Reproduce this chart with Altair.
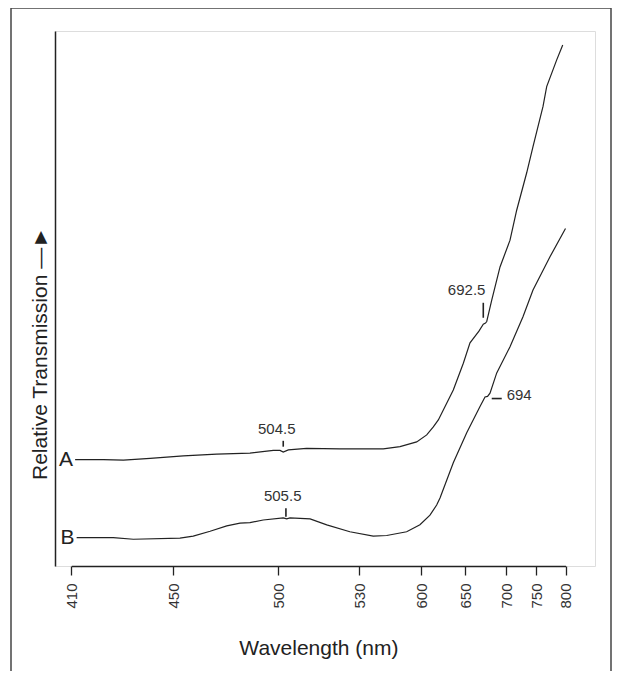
import altair as alt
import pandas as pd

# x-axis tick values (nm) and where the original's non-linear axis places them
tick_values = [410, 450, 500, 530, 600, 650, 700, 750, 800]
tick_range = [16.3, 118, 223.4, 304, 366, 410, 451, 481, 510.5]

# Curve A
a_wl = [411.5, 422.6, 430.5, 441.0, 454.9, 470.7, 486.5, 497.6, 500.6, 501.8, 503.7,
        510.5, 522.9, 557.4, 576.3, 595.1, 606.5, 614.0, 619.7, 636.7, 648.1, 656.1,
        667.0, 672.3, 675.0, 676.5, 682.6, 692.7, 706.7, 717.8, 734.5, 745.0, 761.9,
        768.1, 785.1, 795.3]
a_val = [19.9, 19.9, 19.8, 20.1, 20.6, 20.9, 21.1, 21.6, 21.6, 21.3, 21.7,
         22.0, 21.9, 21.9, 22.3, 23.2, 24.5, 26.0, 27.3, 32.9, 37.9, 41.7,
         43.9, 45.2, 45.4, 45.7, 49.7, 55.9, 60.9, 66.5, 73.5, 78.4, 85.9,
         89.6, 94.6, 97.4]

# Curve B
b_wl = [412.1, 426.5, 434.4, 453.3, 459.6, 467.6, 475.5, 481.8, 486.5, 492.8, 501.8,
        503.1, 504.3, 511.8, 518.0, 526.6, 546.1, 561.3, 583.8, 598.8, 610.2, 617.8,
        621.6, 636.7, 652.1, 668.3, 674.4, 677.5, 680.5, 688.7, 706.7, 728.3, 745.0,
        773.7, 800.0]
b_val = [5.3, 5.3, 5.0, 5.2, 5.6, 6.5, 7.5, 8.0, 8.1, 8.6, 9.0,
         8.8, 9.0, 8.8, 7.7, 6.4, 5.6, 5.7, 6.4, 7.7, 9.5, 11.4,
         12.7, 19.3, 24.9, 29.8, 31.6, 31.7, 32.3, 36.1, 41.0, 46.6, 51.6,
         57.8, 63.1]

# Curve name labels
curve_names = ["A", "B"]

# Peak markers (line segments) and their annotation labels
mark_x = [501.8, 502.8, 672.3, 682.6]
mark_x2 = [501.8, 502.8, 672.3, 694.8]
mark_y = [22.3, 9.2, 46.4, 31.3]
mark_y2 = [23.4, 10.8, 49.2, 31.3]

ann_text = ["504.5", "505.5", "692.5", "694"]
ann_x = [499.2, 501.6, 652.0, 701.1]
ann_y = [25.7, 13.1, 51.5, 32.0]
ann_align = ["center", "center", "center", "left"]

FONT = "Liberation Sans"
INK = "#222222"

curve_df = pd.DataFrame({
    "wl": a_wl + b_wl,
    "val": a_val + b_val,
    "curve": ["A"] * len(a_wl) + ["B"] * len(b_wl),
    "i": list(range(len(a_wl))) + list(range(len(b_wl))),
})
name_df = pd.DataFrame({"curve": curve_names, "wl": [a_wl[0], b_wl[0]], "val": [a_val[0], b_val[0]]})
mark_df = pd.DataFrame({"x": mark_x, "x2": mark_x2, "y": mark_y, "y2": mark_y2})
ann_df = pd.DataFrame({"t": ann_text, "x": ann_x, "y": ann_y, "al": ann_align})

x_scale = alt.Scale(domain=tick_values, range=tick_range)
y_scale = alt.Scale(domain=[0, 100], nice=False, zero=False)

x_axis = alt.Axis(
    values=tick_values, format="d", title="Wavelength (nm)",
    labelAngle=-90, labelAlign="right", labelBaseline="middle",
    tickSize=9, labelPadding=8, labelFontSize=15, labelFont=FONT, labelColor="#333",
    titleFontSize=21, titleFont=FONT, titleFontWeight="normal", titleColor=INK,
    titleY=82, titleBaseline="middle",
    grid=False, domainColor=INK, tickColor=INK, domainWidth=1.5, tickWidth=1.3,
    labelFlush=False, labelOverlap=False,
)
y_axis = alt.Axis(
    title="Relative Transmission \u2014\u25BA", labels=False, ticks=False, grid=False,
    domainColor=INK, domainWidth=1.5,
    titleFontSize=21, titleFont=FONT, titleFontWeight="normal", titleColor=INK,
    titleX=-15, titleY=322, titleAngle=-90, titleAlign="center", titleBaseline="middle",
)

lines = alt.Chart(curve_df).mark_line(color=INK, strokeWidth=1.2).encode(
    x=alt.X("wl:Q", scale=x_scale, axis=x_axis),
    y=alt.Y("val:Q", scale=y_scale, axis=y_axis),
    detail="curve:N",
    order="i:Q",
)

names = alt.Chart(name_df).mark_text(
    align="right", baseline="middle", dx=-2, fontSize=21, font=FONT, color=INK
).encode(x=alt.X("wl:Q", scale=x_scale), y=alt.Y("val:Q", scale=y_scale), text="curve:N")

markers = alt.Chart(mark_df).mark_rule(color=INK, strokeWidth=1.6).encode(
    x=alt.X("x:Q", scale=x_scale), x2="x2:Q",
    y=alt.Y("y:Q", scale=y_scale), y2="y2:Q",
)

def ann_layer(al):
    return alt.Chart(ann_df).transform_filter(alt.datum.al == al).mark_text(
        align=al, baseline="middle", fontSize=15, font=FONT, color="#333"
    ).encode(x=alt.X("x:Q", scale=x_scale), y=alt.Y("y:Q", scale=y_scale), text="t:N")

ann_c = ann_layer("center")
ann_l = ann_layer("left")

one = pd.DataFrame({"k": [0]})
frame_left = alt.Chart(one).mark_rule(color="#444", strokeWidth=1.5).encode(
    x=alt.value(-44), y=alt.value(-23), y2=alt.value(640))
frame_top = alt.Chart(one).mark_rule(color="#444", strokeWidth=1.5).encode(
    x=alt.value(-44), x2=alt.value(556), y=alt.value(-23))
frame_right = alt.Chart(one).mark_rule(color="#444", strokeWidth=1.5).encode(
    x=alt.value(556), y=alt.value(-23), y2=alt.value(640))

chart = alt.layer(lines, names, markers, ann_c, ann_l, frame_left, frame_top, frame_right).properties(
    width=540, height=535,
    autosize=alt.AutoSizeParams(type="none"),
    padding={"left": 47, "top": 23, "right": 18, "bottom": 105},
).configure_view(stroke=INK, strokeWidth=1.5).configure(background="white")

chart.save("out.html", embed_options={"renderer": "svg", "actions": False})
